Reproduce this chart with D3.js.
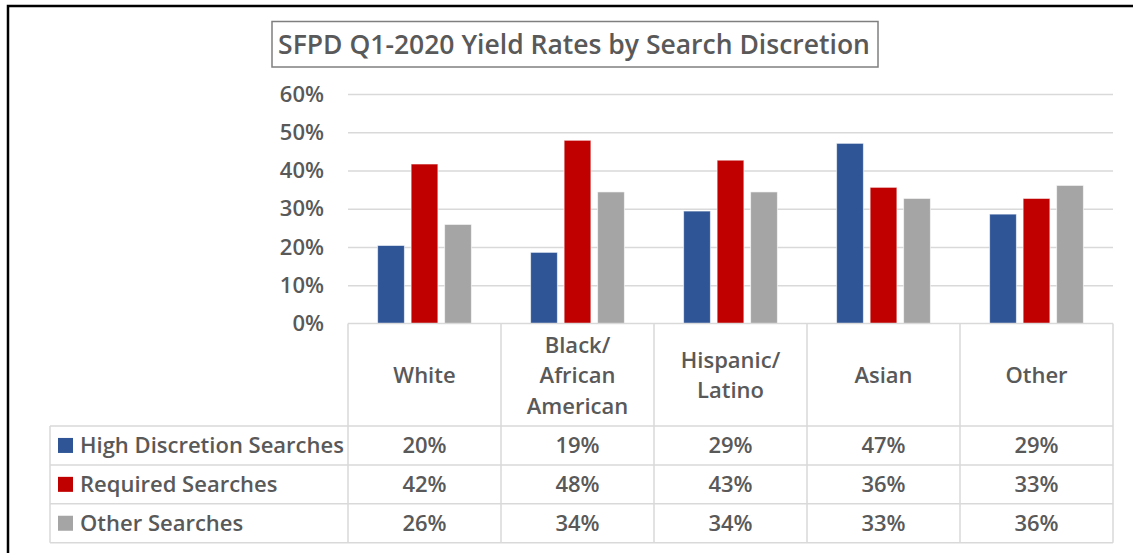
<!DOCTYPE html>
<html>
<head>
  <script src="https://d3js.org/d3.v7.min.js"></script>
  <style>
    body { margin: 0; background: #fff; }
    text { font-family: 'Open Sans', Lato, sans-serif; fill: #595959; font-weight: 600; }
  </style>
</head>
<body>
  <svg id="canvas" width="1133" height="553"></svg>
  <script>
    // data
    const categories = [['White'], ['Black/', 'African', 'American'], ['Hispanic/', 'Latino'], ['Asian'], ['Other']];
    const seriesNames = ['High Discretion Searches', 'Required Searches', 'Other Searches'];
    const seriesColors = ['#2F5597', '#C00000', '#A5A5A5'];
    const highDiscretion = [0.204, 0.186, 0.294, 0.471, 0.286];
    const required = [0.417, 0.479, 0.427, 0.356, 0.327];
    const otherSearches = [0.259, 0.344, 0.344, 0.327, 0.361];
    const yTicks = [0, 0.1, 0.2, 0.3, 0.4, 0.5, 0.6];
    const title = 'SFPD Q1-2020 Yield Rates by Search Discretion';

    const series = [highDiscretion, required, otherSearches];
    const catKeys = categories.map(c => c.join(' '));

    const svg = d3.select('svg#canvas');

    // outer frame (only left and top edges show in the crop)
    svg.append('rect')
      .attr('x', 8).attr('y', 6)
      .attr('width', 1200).attr('height', 600)
      .attr('fill', 'none')
      .attr('stroke', '#000')
      .attr('stroke-width', 2.5);

    // title box
    svg.append('rect')
      .attr('x', 272).attr('y', 21.5)
      .attr('width', 606).attr('height', 45.5)
      .attr('fill', '#fff')
      .attr('stroke', '#7f7f7f')
      .attr('stroke-width', 1.5);
    svg.append('text')
      .attr('x', 574).attr('y', 54)
      .attr('text-anchor', 'middle')
      .style('font-size', '26.5px')
      .text(title);

    const plotLeft = 348, plotRight = 1113;
    const yScale = d3.scaleLinear().domain([0, 0.6]).range([323.5, 94]);
    const x0 = d3.scaleBand().domain(catKeys).range([plotLeft, plotRight]);
    const x1 = d3.scaleBand().domain(seriesNames)
      .range([29.6, x0.bandwidth() - 29.6])
      .paddingInner(0.2);

    // gridlines
    svg.append('g')
      .attr('transform', `translate(${plotLeft},0)`)
      .call(d3.axisLeft(yScale).tickValues(yTicks.slice(1))
        .tickSize(-(plotRight - plotLeft)).tickFormat(''))
      .call(g => g.select('.domain').remove())
      .call(g => g.selectAll('line').attr('stroke', '#D9D9D9').attr('stroke-width', 1.5));

    // y axis labels
    svg.append('g')
      .attr('transform', 'translate(324,0)')
      .call(d3.axisLeft(yScale).tickValues(yTicks).tickSize(0).tickPadding(0).tickFormat(d3.format('.0%')))
      .call(g => g.select('.domain').remove())
      .call(g => g.selectAll('text')
        .style('font-size', '22px')
        .style('font-family', "'Open Sans', sans-serif")
        .style('font-weight', '600')
        .attr('fill', '#595959'));

    // bars
    const groups = svg.append('g').selectAll('g')
      .data(catKeys)
      .join('g')
      .attr('transform', d => `translate(${x0(d)},0)`);
    groups.selectAll('rect')
      .data((d, i) => seriesNames.map((s, j) => ({ s, j, v: series[j][i] })))
      .join('rect')
      .attr('x', d => x1(d.s))
      .attr('y', d => yScale(d.v))
      .attr('width', x1.bandwidth())
      .attr('height', d => yScale(0) - yScale(d.v))
      .attr('fill', d => seriesColors[d.j])
      .attr('stroke', '#fff')
      .attr('stroke-opacity', 0.6)
      .attr('stroke-width', 1);

    // data table
    const tableLeft = 50;
    const headerBottom = 426;
    const rowH = 38.9;
    const tableBottom = headerBottom + rowH * 3;
    const grid = svg.append('g')
      .attr('stroke', '#D9D9D9')
      .attr('stroke-width', 1.5);
    grid.append('line')
      .attr('x1', plotLeft).attr('x2', plotRight)
      .attr('y1', yScale(0)).attr('y2', yScale(0));
    for (let r = 0; r <= 3; r++) {
      grid.append('line')
        .attr('x1', tableLeft).attr('x2', plotRight)
        .attr('y1', headerBottom + r * rowH).attr('y2', headerBottom + r * rowH);
    }
    grid.append('line')
      .attr('x1', tableLeft).attr('x2', tableLeft)
      .attr('y1', headerBottom).attr('y2', tableBottom);
    catKeys.concat(['end']).forEach((k, i) => {
      const x = i < catKeys.length ? x0(k) : plotRight;
      grid.append('line')
        .attr('x1', x).attr('x2', x)
        .attr('y1', yScale(0)).attr('y2', tableBottom);
    });

    // header cells
    const lineGap = 30.5;
    categories.forEach((lines, i) => {
      const cx = x0(catKeys[i]) + x0.bandwidth() / 2;
      const t = svg.append('text')
        .attr('text-anchor', 'middle')
        .style('font-size', '22px');
      lines.forEach((ln, j) => {
        t.append('tspan')
          .attr('x', cx)
          .attr('y', 375 + (j - (lines.length - 1) / 2) * lineGap + 8)
          .text(ln);
      });
    });

    // legend rows and values
    const fmt = d3.format('.0%');
    seriesNames.forEach((s, j) => {
      const cy = headerBottom + rowH * j + rowH / 2;
      svg.append('rect')
        .attr('x', 58).attr('y', cy - 7.5)
        .attr('width', 15).attr('height', 15)
        .attr('fill', seriesColors[j]);
      svg.append('text')
        .attr('x', 80).attr('y', cy + 8)
        .style('font-size', '22px')
        .text(s);
      series[j].forEach((v, i) => {
        svg.append('text')
          .attr('x', x0(catKeys[i]) + x0.bandwidth() / 2)
          .attr('y', cy + 8)
          .attr('text-anchor', 'middle')
          .style('font-size', '22px')
          .text(fmt(v));
      });
    });
  </script>
</body>
</html>
